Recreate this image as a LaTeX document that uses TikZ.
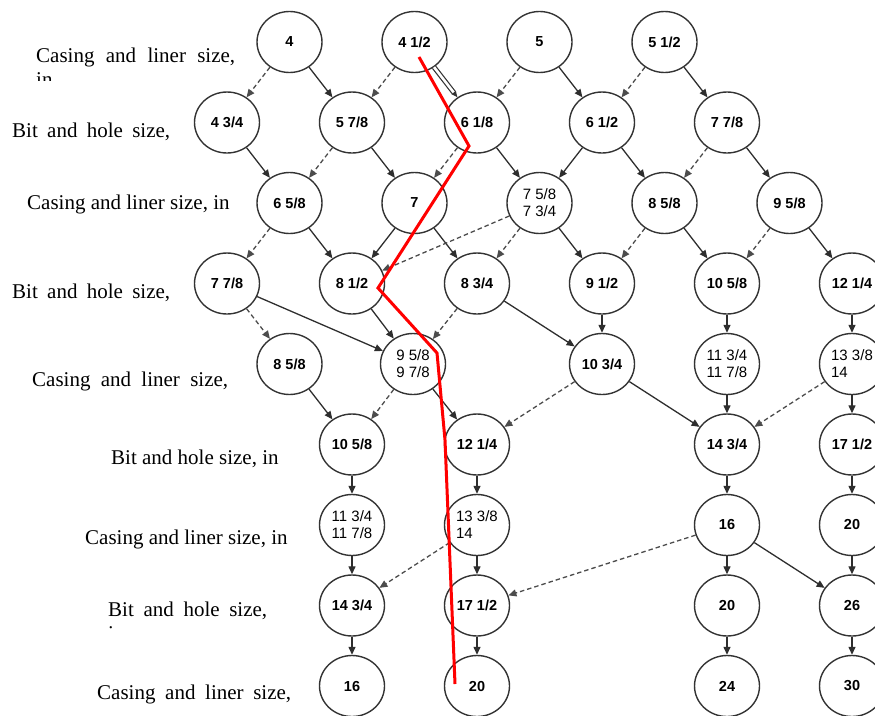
\documentclass[tikz,border=0pt]{standalone}
\usepackage{fontspec}
\setmainfont{Liberation Serif}
\newfontfamily\nodefont{Liberation Sans}
\usetikzlibrary{shapes.geometric,arrows.meta}
\begin{document}
\begin{tikzpicture}[x=1pt,y=-1pt,
  sz/.style={ellipse, draw=black!80, line width=1.4pt, minimum width=65pt, minimum height=61pt,
     inner sep=0pt, font=\nodefont\bfseries\fontsize{14.5}{16}\selectfont, text=black},
  sztwo/.style={sz, font=\nodefont\fontsize{15}{17}\selectfont, align=left},
  sol/.style={draw=black!82, line width=1.3pt, -{Triangle[length=8pt,width=7pt]}},
  dsh/.style={sol, draw=black!70, dash pattern=on 4.5pt off 3pt},
  dbl/.style={draw=black!80, line width=1.2pt, double=white, double distance=2.6pt, -{Triangle[length=6pt,width=5pt]}},
  lbl/.style={anchor=base west, inner sep=0pt, font=\fontsize{21}{24}\selectfont},
  redpath/.style={draw=red, line width=3pt, line join=miter}
]
\useasboundingbox (0,0) rectangle (875,715);
\clip (0,0) rectangle (875,715);

% left labels
\node[lbl] (l1) at (36,62) {\makebox[199pt][s]{Casing and liner size,}};
\begin{scope}
  \clip (0,0) rectangle (300,80);
  \node[lbl] (l1b) at (36,86) {in};
\end{scope}
\node[lbl] (l2) at (12,137) {\makebox[158pt][s]{Bit and hole size,}};
\node[lbl] (l3) at (27,209) {Casing and liner size, in};
\node[lbl] (l4) at (12,298) {\makebox[158pt][s]{Bit and hole size,}};
\node[lbl] (l5) at (32,386) {\makebox[196pt][s]{Casing and liner size,}};
\node[lbl] (l6) at (111,464) {Bit and hole size, in};
\node[lbl] (l7) at (85,544) {Casing and liner size, in};
\node[lbl] (l8) at (108,616) {\makebox[159pt][s]{Bit and hole size,}};
\begin{scope}
  \clip (0,600) rectangle (300,629);
  \node[lbl] (l8b) at (108,640) {in};
\end{scope}
\node[lbl] (l9) at (97,699) {\makebox[194pt][s]{Casing and liner size,}};

% nodes: x = 227 + 62.5 k ; y = 42 + 80.5 r
\node[sz] (r0c1) at (289.5,42) {4};
\node[sz] (r0c3) at (414.5,42) {4 1/2};
\node[sz] (r0c5) at (539.5,42) {5};
\node[sz] (r0c7) at (664.5,42) {5 1/2};

\node[sz] (r1c0) at (227,122.5) {4 3/4};
\node[sz] (r1c2) at (352,122.5) {5 7/8};
\node[sz] (r1c4) at (477,122.5) {6 1/8};
\node[sz] (r1c6) at (602,122.5) {6 1/2};
\node[sz] (r1c8) at (727,122.5) {7 7/8};

\node[sz] (r2c1) at (289.5,203) {6 5/8};
\node[sz] (r2c3) at (414.5,203) {7};
\node[sztwo] (r2c5) at (539.5,203) {7 5/8\\7 3/4};
\node[sz] (r2c7) at (664.5,203) {8 5/8};
\node[sz] (r2c9) at (789.5,203) {9 5/8};

\node[sz] (r3c0) at (227,283.5) {7 7/8};
\node[sz] (r3c2) at (352,283.5) {8 1/2};
\node[sz] (r3c4) at (477,283.5) {8 3/4};
\node[sz] (r3c6) at (602,283.5) {9 1/2};
\node[sz] (r3c8) at (727,283.5) {10 5/8};
\node[sz] (r3c10) at (852,283.5) {12 1/4};

\node[sz] (r4c1) at (289.5,364) {8 5/8};
\node[sztwo] (r4c3) at (413,364) {9 5/8\\9 7/8};
\node[sz] (r4c6) at (602,364) {10 3/4};
\node[sztwo] (r4c8) at (727,364) {11 3/4\\11 7/8};
\node[sztwo] (r4c10) at (852,364) {13 3/8\\14};

\node[sz] (r5c2) at (352,444.5) {10 5/8};
\node[sz] (r5c4) at (477,444.5) {12 1/4};
\node[sz] (r5c8) at (727,444.5) {14 3/4};
\node[sz] (r5c10) at (852,444.5) {17 1/2};

\node[sztwo] (r6c2) at (352,525) {11 3/4\\11 7/8};
\node[sztwo] (r6c4) at (477,525) {13 3/8\\14};
\node[sz] (r6c8) at (727,525) {16};
\node[sz] (r6c10) at (852,525) {20};

\node[sz] (r7c2) at (352,605.5) {14 3/4};
\node[sz] (r7c4) at (477,605.5) {17 1/2};
\node[sz] (r7c8) at (727,605.5) {20};
\node[sz] (r7c10) at (852,605.5) {26};

\node[sz] (r8c2) at (352,686) {16};
\node[sz] (r8c4) at (477,686) {20};
\node[sz] (r8c8) at (727,686) {24};
\node[sz] (r8c10) at (852,686) {30};

% solid connectors
\foreach \a/\b in {r0c1/r1c2, r0c5/r1c6, r0c7/r1c8,
  r1c0/r2c1, r1c2/r2c3, r1c4/r2c5, r1c6/r2c5, r1c6/r2c7, r1c8/r2c9,
  r2c1/r3c2, r2c3/r3c2, r2c3/r3c4, r2c5/r3c6, r2c7/r3c8, r2c9/r3c10,
  r3c0/r4c3, r3c2/r4c3, r3c4/r4c6, r3c6/r4c6, r3c8/r4c8, r3c10/r4c10,
  r4c1/r5c2, r4c3/r5c4, r4c6/r5c8, r4c8/r5c8, r4c10/r5c10,
  r5c2/r6c2, r5c4/r6c4, r5c8/r6c8, r5c10/r6c10,
  r6c2/r7c2, r6c4/r7c4, r6c8/r7c8, r6c8/r7c10, r6c10/r7c10,
  r7c2/r8c2, r7c4/r8c4, r7c8/r8c8, r7c10/r8c10}
  \draw[sol] (\a) -- (\b);

% dashed connectors
\foreach \a/\b in {r0c1/r1c0, r0c3/r1c2, r0c5/r1c4, r0c7/r1c6,
  r1c2/r2c1, r1c4/r2c3, r1c8/r2c7,
  r2c1/r3c0, r2c5/r3c2, r2c5/r3c4, r2c7/r3c6, r2c9/r3c8,
  r3c0/r4c1, r3c4/r4c3,
  r4c3/r5c2, r4c6/r5c4, r4c10/r5c8,
  r6c4/r7c2, r6c8/r7c4}
  \draw[dsh] (\a) -- (\b);

% double connector
\draw[dbl] (r0c3) -- (r1c4);

% red path
\coordinate (p1) at (419,57);
\coordinate (p2) at (469,146);
\coordinate (p3) at (378,288);
\coordinate (p4) at (437,353);
\coordinate (p5) at (445,440);
\coordinate (p6) at (455,684);
\draw[redpath] (p1) -- (p2) -- (p3) -- (p4) -- (p5) -- (p6);
\end{tikzpicture}
\end{document}
